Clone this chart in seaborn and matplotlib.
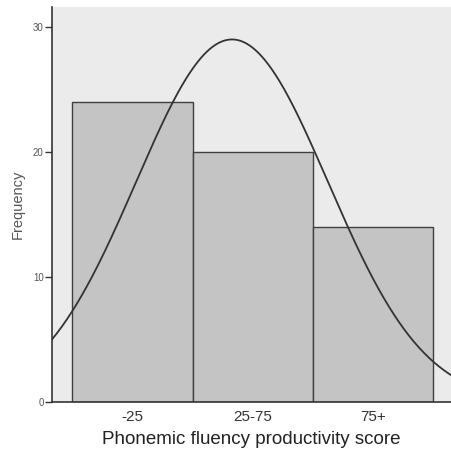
import numpy as np
import pandas as pd
import matplotlib
matplotlib.use("Agg")
import matplotlib.pyplot as plt
import seaborn as sns

# histogram data
categories = ["-25", "25-75", "75+"]
counts = [24, 20, 14]
df = pd.DataFrame({"score": categories, "freq": counts})

# normal curve fitted to the binned data (bins at positions 0,1,2)
pos = np.arange(len(counts))
n = sum(counts)
mean = np.sum(pos * np.array(counts)) / n
sd = np.sqrt(np.sum(np.array(counts) * (pos - mean) ** 2) / (n - 1))

sns.set_theme(style="white")
plt.rcParams["font.family"] = ["Liberation Sans", "DejaVu Sans"]

fig = plt.figure(figsize=(4.52, 4.55), dpi=100)
ax = fig.add_axes([52 / 452, 1 - 402 / 455, 399 / 452, 395 / 455])
ax.set_facecolor("#ebebeb")

sns.barplot(data=df, x="score", y="freq", color="#c4c4c4", width=1.0,
            saturation=1, edgecolor="#404040", linewidth=1.0, ax=ax)

x0, x1 = -0.668, 2.647
xs = np.linspace(x0, x1, 400)
ys = n * np.exp(-0.5 * ((xs - mean) / sd) ** 2) / (sd * np.sqrt(2 * np.pi))
ax.plot(xs, ys, color="#333333", lw=1.3)

ax.set_xlim(x0, x1)
ax.set_ylim(0, 31.6)
ax.set_yticks([0, 10, 20, 30])
ax.tick_params(axis="y", length=5, width=1, colors="#333333", labelsize=7,
               labelcolor="#555555", pad=1, left=True)
ax.tick_params(axis="x", length=0, labelsize=11, labelcolor="#333333", pad=6)

for s in ["left", "bottom"]:
    ax.spines[s].set_color("#333333")
    ax.spines[s].set_linewidth(1.2)
for s in ["top", "right"]:
    ax.spines[s].set_visible(False)

ax.set_ylabel("Frequency", fontsize=10.5, color="#555555", labelpad=6)
ax.set_xlabel("Phonemic fluency productivity score", fontsize=13.5,
              color="#222222", labelpad=5)

fig.savefig("out.png", dpi=100)
